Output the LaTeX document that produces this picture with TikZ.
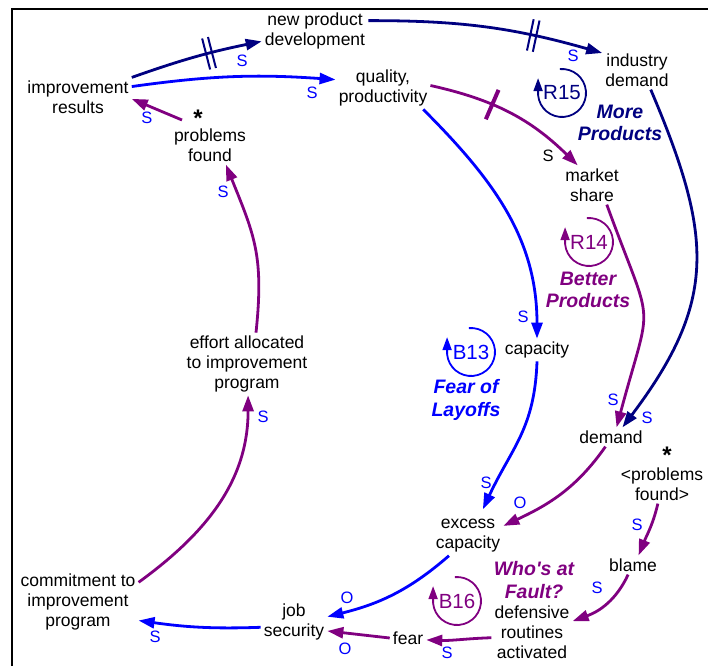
\documentclass[tikz,border=0pt]{standalone}
\usepackage{fontspec}
\setmainfont{Liberation Sans}
\usetikzlibrary{arrows.meta,decorations.markings}

\definecolor{linkblue}{RGB}{0,0,255}
\definecolor{linknavy}{RGB}{0,0,128}
\definecolor{linkpurple}{RGB}{128,0,128}

% loop marker: #1 name, #2 centre, #3 colour, #4 loop id
\newcommand{\loopsym}[4]{%
  \draw[#3, line width=1.8pt, -{Triangle[length=13pt,width=9pt]}]
    (#2) ++(95:24) arc[start angle=95, end angle=-175, radius=24] -- ++(0,17);
  \node[loopname, text=#3] (#1) at (#2) {#4};
}

\begin{document}
\begin{tikzpicture}[x=1pt, y=1pt,
  var/.style={align=center, inner sep=3pt, font=\fontsize{17.5}{20}\selectfont},
  pol/.style={inner sep=0pt, text=linkblue, font=\fontsize{16.5}{18}\selectfont},
  link/.style={line width=2.8pt, -{Triangle[length=16pt,width=11pt]}},
  loopname/.style={inner sep=0pt, font=\fontsize{20.5}{22}\selectfont},
  looptitle/.style={align=center, inner sep=0pt,
    font=\fontsize{19.5}{22.5}\selectfont\bfseries\itshape},
  star/.style={inner sep=0pt, text height=17pt, text depth=-10pt,
    font=\fontsize{24}{24}\selectfont\bfseries},
  dhash/.style={postaction={decorate, decoration={markings,
    mark=at position #1 with {\draw[linknavy, line width=2pt, -]
      (-3pt,-16pt) -- (-3pt,16pt) (3pt,-16pt) -- (3pt,16pt);}}}},
  sbar/.style={postaction={decorate, decoration={markings,
    mark=at position #1 with {\draw[linkpurple, line width=4pt, -]
      (0,-16pt) -- (0,16pt);}}}},
]
\useasboundingbox (0,0) rectangle (708,-666);

% frame
\draw[line width=2.5pt] (12,-666) -- (12,-9) -- (708,-9);

% variables
\node[var] (ir)   at (78,-97)   {improvement\\results};
\node[var] (npd)  at (315,-31)  {new product\\development};
\node[var] (qp)   at (383,-88)  {quality,\\productivity};
\node[var] (id)   at (637,-70)  {industry\\demand};
\node[var] (pf)   at (210,-145) {problems\\found};
\node[star] (pfstar) at (198,-118) {*};
\node[var] (ms)   at (592,-185) {market\\share};
\node[var] (cap)  at (537,-350) {capacity};
\node[var] (dem)  at (611,-437) {demand};
\node[var] (pfg)  at (662,-484) {\textless problems\\found\textgreater};
\node[star] (pfgstar) at (667,-455) {*};
\node[var] (bl)   at (633,-565) {blame};
\node[var] (ec)   at (468,-536) {excess\\capacity};
\node[var] (dra)  at (532,-632) {defensive\\routines\\activated};
\node[var] (fear) at (408,-638) {fear};
\node[var] (js)   at (294,-622) {job\\security};
\node[var] (cip)  at (78,-602)  {commitment to\\improvement\\program};
\node[var] (eap)  at (247,-364) {effort allocated\\to improvement\\program};

% causal links
\draw[link, linknavy, dhash=0.6] (ir.20) to[bend left=4] (npd.191);
\draw[link, linkblue] (ir.11) to[bend left=6] (qp.170);
\draw[link, linknavy, dhash=0.7] (npd.11) to[bend left=8] (id.154);
\draw[link, linkpurple, sbar=0.38] (qp.3) to[bend left=16] (ms.126);
\draw[link, linkblue] (qp.-28) to[out=-45, in=90] (cap.90);
\draw[link, linknavy] (id.-55) to[out=-67, in=53, looseness=1.2] (dem.40);
\draw[link, linkpurple] (ms.-53) to[out=-70, in=75, looseness=1.6] (dem.60);
\draw[link, linkblue] (cap.-90) to[out=-92, in=65, looseness=1.1] ([yshift=7pt]ec.53);
\draw[link, linkpurple] (dem.-120) to[out=-125, in=25] (ec.16);
\draw[link, linkpurple] (pfg.-102) to[out=-103, in=68] (bl.60);
\draw[link, linkpurple] (bl.-117) to[out=-115, in=20] (dra.15);
\draw[link, linkpurple] (dra.188) to[out=182, in=-2] (fear.-6);
\draw[link, linkpurple] (fear.180) -- (js.-15);
\draw[link, linkblue] (ec.-134) to[out=-139, in=14] (js.9);
\draw[link, linkblue] (js.189) to[out=182, in=-8] (cip.-17);
\draw[link, linkpurple] (cip.18) to[out=36, in=-90] (eap.-88);
\draw[link, linkpurple] (eap.74) to[out=84, in=-68, looseness=1.15] (pf.-51);
\draw[link, linkpurple] ([shift={(-28,25)}]pf.center) -- (ir.-2);

% polarities
\node[pol] (p1)  at (242,-61)  {S};
\node[pol] (p2)  at (312,-93)  {S};
\node[pol] (p3)  at (573,-56)  {S};
\node[pol, text=black] (p4) at (548,-156) {S};
\node[pol] (p5)  at (523,-317) {S};
\node[pol] (p6)  at (647,-418) {S};
\node[pol] (p7)  at (613,-400) {S};
\node[pol] (p8)  at (486,-483) {S};
\node[pol] (p9)  at (520,-503) {O};
\node[pol] (p10) at (637,-525) {S};
\node[pol] (p11) at (597,-588) {S};
\node[pol] (p12) at (447,-653) {S};
\node[pol] (p13) at (345,-649) {O};
\node[pol] (p14) at (347,-598) {O};
\node[pol] (p15) at (155,-637) {S};
\node[pol] (p16) at (263,-417) {S};
\node[pol] (p17) at (223,-192) {S};
\node[pol] (p18) at (147,-118) {S};

% loops
\loopsym{r15}{562,-93}{linknavy}{R15}
\loopsym{r14}{589,-242}{linkpurple}{R14}
\loopsym{b13}{471,-352}{linkblue}{B13}
\loopsym{b16}{457,-601}{linkpurple}{B16}

\node[looptitle, text=linknavy]   (t15) at (620,-123) {More\\Products};
\node[looptitle, text=linkpurple] (t14) at (588,-290) {Better\\Products};
\node[looptitle, text=linkblue]   (t13) at (466,-400) {Fear of\\Layoffs};
\node[looptitle, text=linkpurple] (t16) at (534,-580) {Who\textquotesingle s at\\Fault?};
\end{tikzpicture}
\end{document}
